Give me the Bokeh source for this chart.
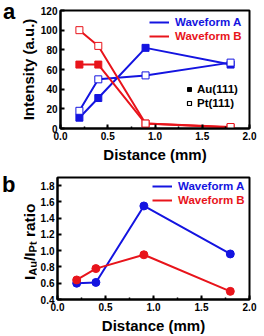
from bokeh.embed import file_html
from bokeh.layouts import column, row
from bokeh.models import Div, FixedTicker, Legend, LegendItem, NumeralTickFormatter, Range1d
from bokeh.plotting import figure
from bokeh.resources import INLINE

# Distance from the electrode (mm)
distance = [0.2, 0.4, 0.9, 1.8]

# Panel a: XRD peak intensities (a.u.)
au_wave_a = [11, 31, 82, 65]
pt_wave_a = [18, 50, 54, 67]
au_wave_b = [65, 65, 5, 1]
pt_wave_b = [100, 84, 5, 1.5]

# Panel b: I_Au / I_Pt ratio
ratio_wave_a = [0.60, 0.61, 1.55, 0.96]
ratio_wave_b = [0.64, 0.78, 0.95, 0.50]

x_ticks = [0.0, 0.5, 1.0, 1.5, 2.0]
y_ticks_a = [0, 20, 40, 60, 80, 100, 120]
y_ticks_b = [0.4, 0.6, 0.8, 1.0, 1.2, 1.4, 1.6, 1.8]

BLUE = "#1414e0"
RED = "#e8141b"
FONT = "Liberation Sans"
NAN = float("nan")
PANEL_H = 168


def style_axes(p, yticks, yfmt):
    p.outline_line_color = "black"
    p.outline_line_width = 2
    p.outline_line_alpha = 1
    p.xgrid.visible = False
    p.ygrid.visible = False
    p.xaxis.ticker = FixedTicker(ticks=x_ticks, minor_ticks=[i * 0.25 for i in range(9)])
    p.yaxis.ticker = FixedTicker(ticks=yticks)
    p.xaxis.formatter = NumeralTickFormatter(format="0.0")
    p.yaxis.formatter = NumeralTickFormatter(format=yfmt)
    for ax in (p.xaxis[0], p.yaxis[0]):
        ax.axis_line_width = 2
        ax.major_tick_in = 4
        ax.major_tick_out = 0
        ax.minor_tick_in = 2
        ax.minor_tick_out = 0
        ax.major_tick_line_width = 2
        ax.minor_tick_line_width = 1.5
        ax.major_label_text_font = FONT
        ax.major_label_text_font_style = "bold"
        ax.major_label_text_font_size = "10px"
        ax.major_label_text_color = "black"
        ax.axis_label_text_font = FONT
        ax.axis_label_text_font_style = "bold"
        ax.axis_label_text_font_size = "15px"
        ax.axis_label_text_color = "black"
        ax.major_label_standoff = 3
        ax.axis_label_standoff = 3


def add_legend(p, items, x, y, color, glyph_width=20, standoff=6, spacing=2):
    leg = Legend(
        items=items,
        location=(x, y),
        glyph_width=glyph_width,
        glyph_height=12,
        label_height=12,
        label_standoff=standoff,
        spacing=spacing,
        padding=0,
        margin=0,
        border_line_alpha=0,
        background_fill_alpha=0,
        label_text_font=FONT,
        label_text_font_style="bold",
        label_text_font_size="11.5px",
        label_text_color=color,
    )
    p.add_layout(leg)


def side_div(width, html):
    return Div(text=f'<div style="position:relative;width:{width}px;height:{PANEL_H}px;'
                    f"font-family:'{FONT}';font-weight:bold;color:black;\">{html}</div>",
               width=width, height=PANEL_H, margin=0,
               styles={"overflow": "visible"})


LETTER = ("position:absolute;left:{x}px;top:{y}px;font-size:22px;line-height:22px;"
          "margin:0;padding:0;")

# ---------------- panel a ----------------
pa = figure(
    width=248, height=PANEL_H,
    x_range=Range1d(0, 2), y_range=Range1d(0, 120),
    output_backend="svg", toolbar_location=None,
    min_border_left=39, min_border_right=15, min_border_top=10, min_border_bottom=40,
)
style_axes(pa, y_ticks_a, "0")
pa.xaxis.axis_label = "Distance (mm)"
pa.yaxis.axis_label = "Intensity (a.u.)"
pa.yaxis.axis_label_standoff = 1

la_au = pa.line(distance, au_wave_a, line_color=BLUE, line_width=2)
pa.line(distance, pt_wave_a, line_color=BLUE, line_width=2)
lb_au = pa.line(distance, au_wave_b, line_color=RED, line_width=2)
pa.line(distance, pt_wave_b, line_color=RED, line_width=2)

pa.scatter(distance, au_wave_a, marker="square", size=7, fill_color=BLUE, line_color=BLUE)
pa.scatter(distance, pt_wave_a, marker="square", size=7, fill_color="white", line_color=BLUE, line_width=1)
pa.scatter(distance, au_wave_b, marker="square", size=7, fill_color=RED, line_color=RED)
pa.scatter(distance, pt_wave_b, marker="square", size=7, fill_color="white", line_color=RED, line_width=1)

# marker key (renderers with no drawable point, only shown in the key)
key_au = pa.scatter([NAN], [NAN], marker="square", size=9, fill_color="black", line_color="black")
key_pt = pa.scatter([NAN], [NAN], marker="square", size=9, fill_color="white", line_color="black", line_width=1.2)

add_legend(pa, [LegendItem(label="Waveform A", renderers=[la_au])], 89, 100, BLUE)
add_legend(pa, [LegendItem(label="Waveform B", renderers=[lb_au])], 89, 86, RED)
add_legend(pa, [LegendItem(label="Au(111)", renderers=[key_au]),
                LegendItem(label="Pt(111)", renderers=[key_pt])], 124, 19, "black",
           glyph_width=10, standoff=3, spacing=2)

div_a = side_div(16, f'<span style="{LETTER.format(x=3, y=1)}">a</span>')

# ---------------- panel b ----------------
pb = figure(
    width=228, height=PANEL_H,
    x_range=Range1d(0, 2), y_range=Range1d(0.4, 1.9),
    output_backend="svg", toolbar_location=None,
    min_border_left=21, min_border_right=15, min_border_top=9, min_border_bottom=36,
)
style_axes(pb, y_ticks_b, "0.0")
pb.xaxis.axis_label = "Distance (mm)"

lb_a = pb.line(distance, ratio_wave_a, line_color=BLUE, line_width=2)
lb_b = pb.line(distance, ratio_wave_b, line_color=RED, line_width=2)
pb.scatter(distance, ratio_wave_a, marker="circle", size=8, fill_color=BLUE, line_color=BLUE)
pb.scatter(distance, ratio_wave_b, marker="circle", size=8, fill_color=RED, line_color=RED)

add_legend(pb, [LegendItem(label="Waveform A", renderers=[lb_a])], 95, 107, BLUE)
add_legend(pb, [LegendItem(label="Waveform B", renderers=[lb_b])], 95, 93, RED)

# rotated y-axis title with subscripts
ytitle = ('<span style="position:absolute;left:22px;top:112px;font-size:15.5px;'
          'line-height:15px;white-space:nowrap;transform:rotate(-90deg);'
          'transform-origin:left top;">I<sub style="font-size:11px;vertical-align:-2px;">Au</sub>'
          '/I<sub style="font-size:11px;vertical-align:-2px;">Pt</sub> ratio</span>')
div_b = side_div(36, f'<span style="{LETTER.format(x=2, y=6)}">b</span>' + ytitle)

layout = column(row(div_a, pa, spacing=0), row(div_b, pb, spacing=0), spacing=0)
open("out.html", "w").write(file_html(layout, INLINE))
